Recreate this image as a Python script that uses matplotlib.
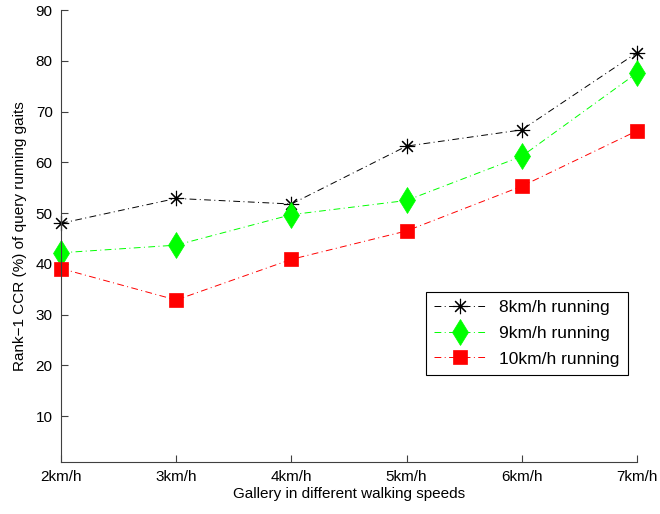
import matplotlib.pyplot as plt

plt.rcParams['font.family'] = ['Liberation Sans', 'DejaVu Sans']

speeds = ['2km/h', '3km/h', '4km/h', '5km/h', '6km/h', '7km/h']
run_8 = [48.0, 52.9, 51.8, 63.2, 66.4, 81.6]
run_9 = [42.2, 43.7, 49.7, 52.5, 61.2, 77.6]
run_10 = [39.1, 32.9, 40.9, 46.5, 55.3, 66.2]
series_names = ['8km/h running', '9km/h running', '10km/h running']

fig = plt.figure(figsize=(6.6, 5.14), dpi=100)
ax = fig.add_axes([0.0924, 0.1012, 0.8727, 0.8793])

x = list(range(len(speeds)))
dashdot = (0, (7, 3.5, 1, 3.5))
ax.plot(x, run_8, color='k', linestyle=dashdot, linewidth=0.7, clip_on=False,
        marker=(8, 2, 0), markersize=11, markeredgewidth=0.8, label=series_names[0])
ax.plot(x, run_9, color='#00ff00', linestyle=dashdot, linewidth=0.7, clip_on=False,
        marker='d', markersize=13, markeredgewidth=0.5, label=series_names[1])
ax.plot(x, run_10, color='#ff0000', linestyle=dashdot, linewidth=0.7, clip_on=False,
        marker='s', markersize=9.5, markeredgewidth=0.5, label=series_names[2])

ax.set_xlim(0, len(speeds) - 1)
ax.set_ylim(1, 90)
ax.set_xticks(x)
ax.set_xticklabels(speeds)
ax.set_yticks(range(10, 91, 10))

for side in ['top', 'right']:
    ax.spines[side].set_visible(False)
for side in ['left', 'bottom']:
    ax.spines[side].set_color('#404040')
ax.tick_params(direction='in', length=5, width=0.8, colors='#404040',
               labelcolor='k', labelsize=11, pad=6)

ax.set_xlabel('Gallery in different walking speeds', fontsize=11, labelpad=2)
ax.set_ylabel('Rank\u22121 CCR (%) of query running gaits', fontsize=11, labelpad=6)

leg = ax.legend(loc='lower right', bbox_to_anchor=(0.984, 0.192), fontsize=12.5,
                fancybox=False, framealpha=1, edgecolor='k', borderpad=0.5,
                handlelength=2.9, labelspacing=0.6, borderaxespad=0)
leg.get_frame().set_linewidth(0.8)

fig.savefig('out.png', dpi=100)
